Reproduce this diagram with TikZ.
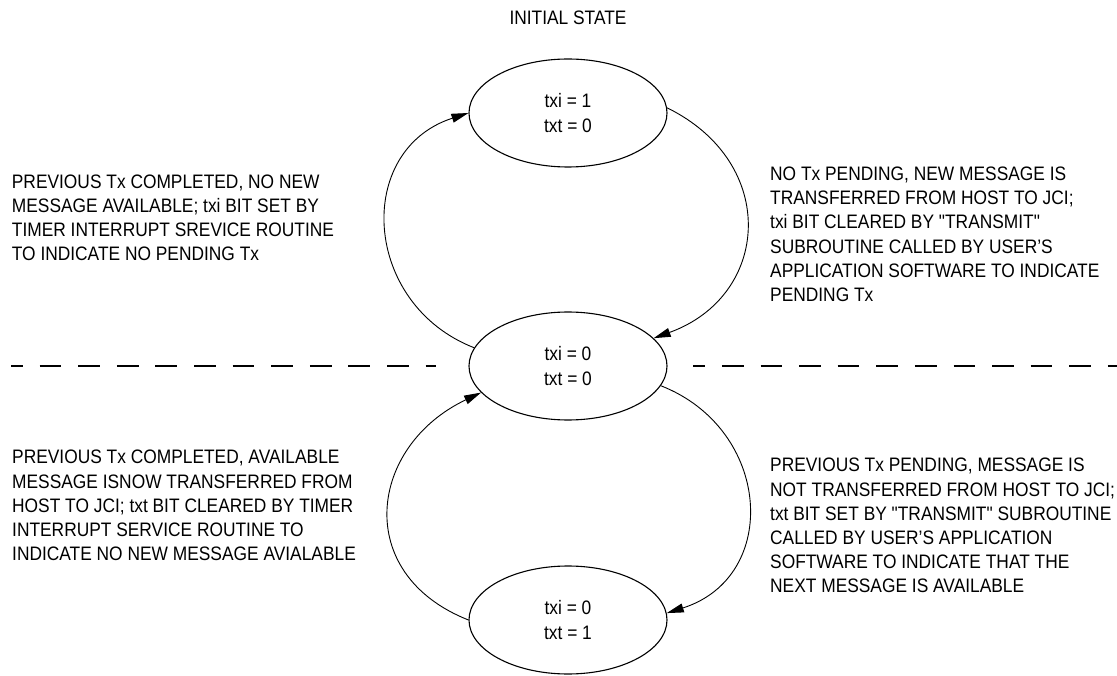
\documentclass[tikz,border=0pt]{standalone}
\usepackage{fontspec}
\setmainfont{Liberation Sans}[FakeStretch=0.89,Ligatures=TeXOff]
\usetikzlibrary{arrows.meta,shapes.geometric}
\begin{document}
\begin{tikzpicture}[x=1pt,y=-1pt,
  state/.style={draw, line width=1.1pt, ellipse, minimum width=198pt, minimum height=108pt, inner sep=0pt, align=center, font=\fontsize{19.5}{25}\selectfont},
  desc/.style={anchor=north west, inner sep=0pt, align=left, font=\fontsize{19.5}{24.2}\selectfont},
  trans/.style={line width=0.9pt, -{Triangle[length=17pt,width=9pt]}},
  sepline/.style={line width=2pt, dash pattern=on 21.7pt off 16.9pt, dash phase=10pt}]
\useasboundingbox (0,0) rectangle (1117,676);

\node[anchor=base, inner sep=0pt, font=\fontsize{19.5}{24}\selectfont] (title) at (568,25) {INITIAL STATE};

\node[state] (top) at (568,113) {txi = 1\\txt = 0};
\node[state] (mid) at (568,366) {txi = 0\\txt = 0};
\node[state] (bot) at (568,620) {txi = 0\\txt = 1};

\draw[sepline] (11,366) -- (436,366);
\draw[sepline] (693.3,366) -- (1117,366);

\draw[trans] (mid.169) .. controls (362,304) and (354,150) .. (top.west);
\draw[trans] (top.3) .. controls (779.5,163) and (770.5,296) .. (mid.18);
\draw[trans] (bot.west) .. controls (351.75,573.75) and (368.75,445.9) .. (mid.197);
\draw[trans] (mid.348) .. controls (771.6,429) and (781,576.8) .. (bot.4);

\node[desc] (lt) at (11.7,174.3) {PREVIOUS Tx COMPLETED, NO NEW\\MESSAGE AVAILABLE; txi BIT SET BY\\TIMER INTERRUPT SREVICE ROUTINE\\TO INDICATE NO PENDING Tx};
\node[desc] (rt) at (770,166.7) {NO Tx PENDING, NEW MESSAGE IS\\TRANSFERRED FROM HOST TO JCI;\\txi BIT CLEARED BY "TRANSMIT"\\SUBROUTINE CALLED BY USER’S\\APPLICATION SOFTWARE TO INDICATE\\PENDING Tx};
\node[desc] (lb) at (12,450) {PREVIOUS Tx COMPLETED, AVAILABLE\\MESSAGE ISNOW TRANSFERRED FROM\\HOST TO JCI; txt BIT CLEARED BY TIMER\\INTERRUPT SERVICE ROUTINE TO\\INDICATE NO NEW MESSAGE AVIALABLE};
\node[desc] (rb) at (770,458) {PREVIOUS Tx PENDING, MESSAGE IS\\NOT TRANSFERRED FROM HOST TO JCI;\\txt BIT SET BY "TRANSMIT" SUBROUTINE\\CALLED BY USER’S APPLICATION\\SOFTWARE TO INDICATE THAT THE\\NEXT MESSAGE IS AVAILABLE};
\end{tikzpicture}
\end{document}
